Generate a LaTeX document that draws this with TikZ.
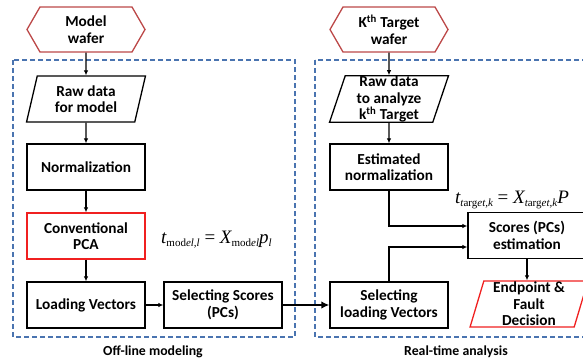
\documentclass[tikz,border=0pt]{standalone}
\usepackage{fontspec}
\setmainfont{Carlito}
\newfontfamily\tms{Liberation Serif}
\usetikzlibrary{arrows.meta,shapes.geometric,shapes.symbols}
\definecolor{hexred}{RGB}{188,72,72}
\definecolor{hotred}{RGB}{240,32,32}
\definecolor{frameblue}{RGB}{74,116,176}
% small subscript for the score formulas
\newcommand\fsub[1]{\raisebox{-3.5pt}{\fontsize{11}{11}\selectfont #1}}
\begin{document}
\begin{tikzpicture}[x=1pt,y=-1pt,
  txt/.style={font=\bfseries\fontsize{15.3}{16.5}\selectfont, align=center, inner sep=0pt},
  box/.style={txt, draw, line width=1.3pt, minimum width=118pt, minimum height=46pt},
  redbox/.style={box, draw=hotred},
  wafer/.style={txt, draw=hexred, line width=1.3pt, shape=signal, signal to=west and east,
      signal pointer angle=120, minimum width=118pt, minimum height=45pt},
  datain/.style={txt, draw, line width=1.3pt, trapezium, trapezium left angle=76,
      trapezium right angle=104, trapezium stretches=true,
      minimum width=119pt, minimum height=46pt},
  frame/.style={draw=frameblue, line width=1.5pt, dash pattern=on 5pt off 3pt},
  arr/.style={line width=1.2pt, -{Latex[length=5pt,width=4.5pt]}},
  bigarr/.style={line width=2.4pt, -{Latex[length=8pt,width=7.5pt]}},
  caption/.style={font=\bfseries\fontsize{13.8}{15}\selectfont, inner sep=0pt},
  formula/.style={font=\tms\fontsize{19}{19}\selectfont, inner sep=0pt, anchor=base west}
]
\useasboundingbox (0,0) rectangle (583,359);
\clip (0,0) rectangle (583,359);

% dashed frames of the two stages
\draw[frame] (13,60) rectangle (295,337);
\draw[frame] (315,60) rectangle (610,337);

% off-line modeling
\node[wafer] (mw) at (86,29.5) {Model\\wafer};
\node[datain] (raw) at (86,99) {Raw data\\for model};
\node[box] (norm) at (86,167) {Normalization};
\node[redbox] (pca) at (86,236) {Conventional\\PCA};
\node[box] (load) at (86,305) {Loading Vectors};
\node[box] (sel) at (223,305) {Selecting Scores\\(PCs)};
\node[formula] (f1) at (161,243)
  {\itshape t\fsub{\upshape mod\itshape el,l}\upshape\ =\ \itshape X\fsub{\upshape mod\itshape el}p\fsub{l}};

% real-time analysis
\node[wafer] (tw) at (389,29.5) {K\textsuperscript{th} Target\\wafer};
\node[datain] (rawt) at (389,99) {Raw data\\to analyze\\k\textsuperscript{th} Target};
\node[box] (estn) at (389,167) {Estimated\\normalization};
\node[box] (sload) at (389,305) {Selecting\\loading Vectors};
\node[box] (scores) at (527,235.5) {Scores (PCs)\\estimation};
\node[datain, draw=hotred] (endp) at (529,304) {Endpoint \&\\Fault\\Decision};
\node[formula] (f2) at (455,203)
  {\itshape t\fsub{t\upshape arg\itshape et,k}\upshape\ =\ \itshape X\fsub{t\upshape arg\itshape et,k}P};

% captions
\node[caption] (cap1) at (153,352) {Off-line modeling};
\node[caption] (cap2) at (456,352) {Real-time analysis};

% connectors
\draw[arr] (mw.south) -- (raw.north);
\draw[arr] (raw.south) -- (norm.north);
\draw[arr] (norm.south) -- (pca.north);
\draw[arr] (pca.south) -- (load.north);
\draw[arr] (load.east) -- (sel.west);
\draw[bigarr] (sel.east) -- (sload.west);
\draw[arr] (tw.south) -- (rawt.north);
\draw[arr] (rawt.south) -- (estn.north);
\draw[arr] (estn.south) |- ([yshift=9.5pt]scores.west);
\draw[arr] (sload.north) |- ([yshift=-11.5pt]scores.west);
\draw[arr] (scores.south) -- (scores.south |- endp.north);
\end{tikzpicture}
\end{document}
